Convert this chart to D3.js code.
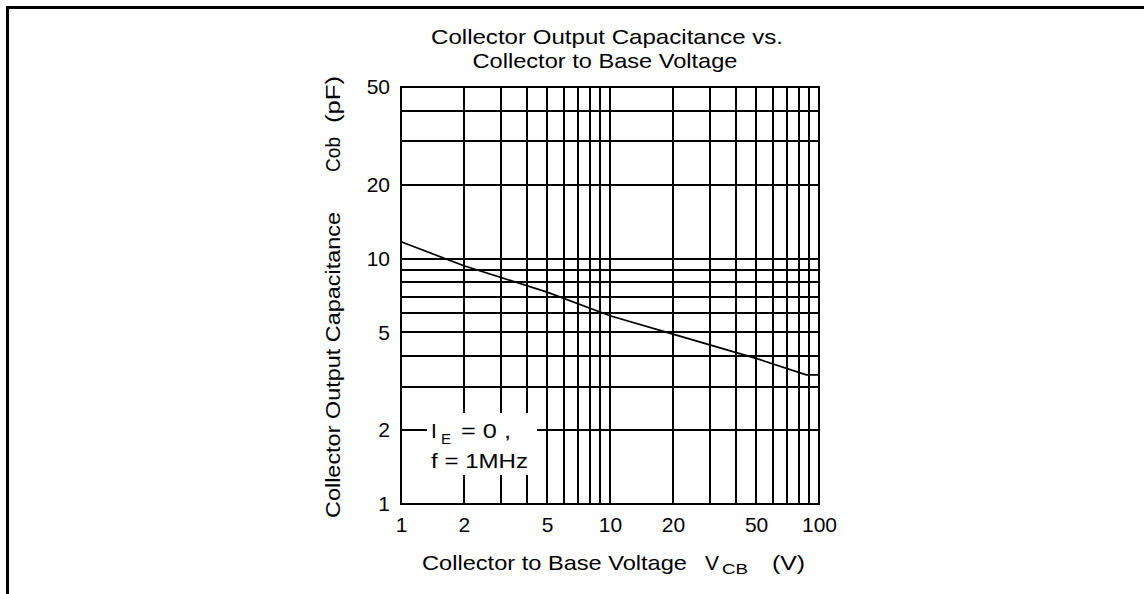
<!DOCTYPE html>
<html><head><meta charset="utf-8">
<script src="https://cdn.jsdelivr.net/npm/d3@7"></script>
<style>html,body{margin:0;padding:0;background:#fff;overflow:hidden}</style>
</head><body><svg id="c" width="1144" height="594"></svg>
<script>
// ---- data ----
const voltage = [1, 2, 5, 10, 20, 50, 87, 100];
const capacitance = [11.7, 9.35, 7.3, 5.85, 4.92, 3.92, 3.36, 3.36];
const xTickValues = [1, 2, 5, 10, 20, 50, 100];
const yTickValues = [1, 2, 5, 10, 20, 50];
const xGridValues = [1, 2, 3, 4, 5, 6, 7, 8, 9, 10, 20, 30, 40, 50, 60, 70, 80, 90, 100];
const yGridValues = [1, 2, 3, 4, 5, 6, 7, 8, 9, 10, 20, 30, 40, 50];
const titleLines = ["Collector Output Capacitance vs.", "Collector to Base Voltage"];
const yLabelParts = ["Collector Output Capacitance", "Cob", "(pF)"];
const xLabelParts = ["Collector to Base Voltage", "V", "CB", "(V)"];
const noteLine1 = ["I", "E", "= 0 ,"];
const noteLine2 = "f = 1MHz";

// ---- layout ----
const FONT = "'Liberation Sans', Arial, Helvetica, sans-serif";
const svg = d3.select("#c");
const x = d3.scaleLog().domain([1, 100]).range([401, 819]);
const y = d3.scaleLog().domain([1, 50]).range([504, 87]);

// outer frame (left + top)
svg.append("path").attr("d", "M7.5,594V7.5H1144")
  .attr("fill", "none").attr("stroke", "#000").attr("stroke-width", 3);

// grid
const grid = svg.append("g").attr("stroke", "#000").attr("stroke-width", 2)
  .attr("shape-rendering", "crispEdges");
grid.selectAll("line.v").data(xGridValues).join("line").attr("class", "v")
  .attr("x1", d => x(d)).attr("x2", d => x(d))
  .attr("y1", y(50) - 1).attr("y2", y(1) + 1);
grid.selectAll("line.h").data(yGridValues).join("line").attr("class", "h")
  .attr("x1", x(1) - 1).attr("x2", x(100) + 1)
  .attr("y1", d => y(d)).attr("y2", d => y(d));

// annotation box (white knock-out)
svg.append("rect").attr("x", 427).attr("y", 413).attr("width", 110).attr("height", 62)
  .attr("fill", "#fff");

// curve
const pts = voltage.map((v, i) => [v, capacitance[i]]);
svg.append("path").datum(pts)
  .attr("fill", "none").attr("stroke", "#000").attr("stroke-width", 1.7)
  .attr("d", d3.line().x(d => x(d[0])).y(d => y(d[1])));

// axes (labels only)
const fmt = d => String(d);
const gy = svg.append("g").attr("transform", `translate(${x(1)},0)`)
  .call(d3.axisLeft(y).tickValues(yTickValues).tickFormat(fmt).tickSize(0).tickPadding(11));
const gx = svg.append("g").attr("transform", `translate(0,${y(1)})`)
  .call(d3.axisBottom(x).tickValues(xTickValues).tickFormat(fmt).tickSize(0).tickPadding(13));
[gx, gy].forEach(g => {
  g.select(".domain").remove();
  g.attr("font-family", FONT).attr("font-size", 21);
  g.selectAll("text").attr("fill", "#000");
});

// title
svg.append("text").attr("x", 607).attr("y", 44).attr("text-anchor", "middle")
  .attr("font-family", FONT).attr("font-size", 21)
  .attr("textLength", 352).attr("lengthAdjust", "spacingAndGlyphs").text(titleLines[0]);
svg.append("text").attr("x", 605).attr("y", 68).attr("text-anchor", "middle")
  .attr("font-family", FONT).attr("font-size", 21)
  .attr("textLength", 265).attr("lengthAdjust", "spacingAndGlyphs").text(titleLines[1]);

// y label (rotated)
const yl = svg.append("g").attr("transform", "translate(340,0) rotate(-90)")
  .attr("font-family", FONT).attr("font-size", 21);
yl.append("text").attr("x", -518).attr("y", 0).attr("textLength", 306)
  .attr("lengthAdjust", "spacingAndGlyphs").text(yLabelParts[0]);
yl.append("text").attr("x", -172).attr("y", 0).attr("textLength", 35)
  .attr("lengthAdjust", "spacingAndGlyphs").text(yLabelParts[1]);
yl.append("text").attr("x", -123).attr("y", 0).attr("textLength", 47)
  .attr("lengthAdjust", "spacingAndGlyphs").text(yLabelParts[2]);

// x label
const xl = svg.append("g").attr("font-family", FONT).attr("font-size", 21);
xl.append("text").attr("x", 422).attr("y", 570).attr("textLength", 265)
  .attr("lengthAdjust", "spacingAndGlyphs").text(xLabelParts[0]);
xl.append("text").attr("x", 705).attr("y", 570).text(xLabelParts[1]);
xl.append("text").attr("x", 722).attr("y", 574).attr("font-size", 14)
  .attr("textLength", 26).attr("lengthAdjust", "spacingAndGlyphs").text(xLabelParts[2]);
xl.append("text").attr("x", 772).attr("y", 570).attr("textLength", 33)
  .attr("lengthAdjust", "spacingAndGlyphs").text(xLabelParts[3]);

// annotation
const nt = svg.append("g").attr("font-family", FONT).attr("font-size", 21);
nt.append("text").attr("x", 431).attr("y", 438).text(noteLine1[0]);
nt.append("text").attr("x", 441).attr("y", 444).attr("font-size", 15).text(noteLine1[1]);
nt.append("text").attr("x", 461).attr("y", 438).attr("textLength", 50)
  .attr("lengthAdjust", "spacingAndGlyphs").text(noteLine1[2]);
nt.append("text").attr("x", 431).attr("y", 468).attr("textLength", 97)
  .attr("lengthAdjust", "spacingAndGlyphs").text(noteLine2);
</script></body></html>
